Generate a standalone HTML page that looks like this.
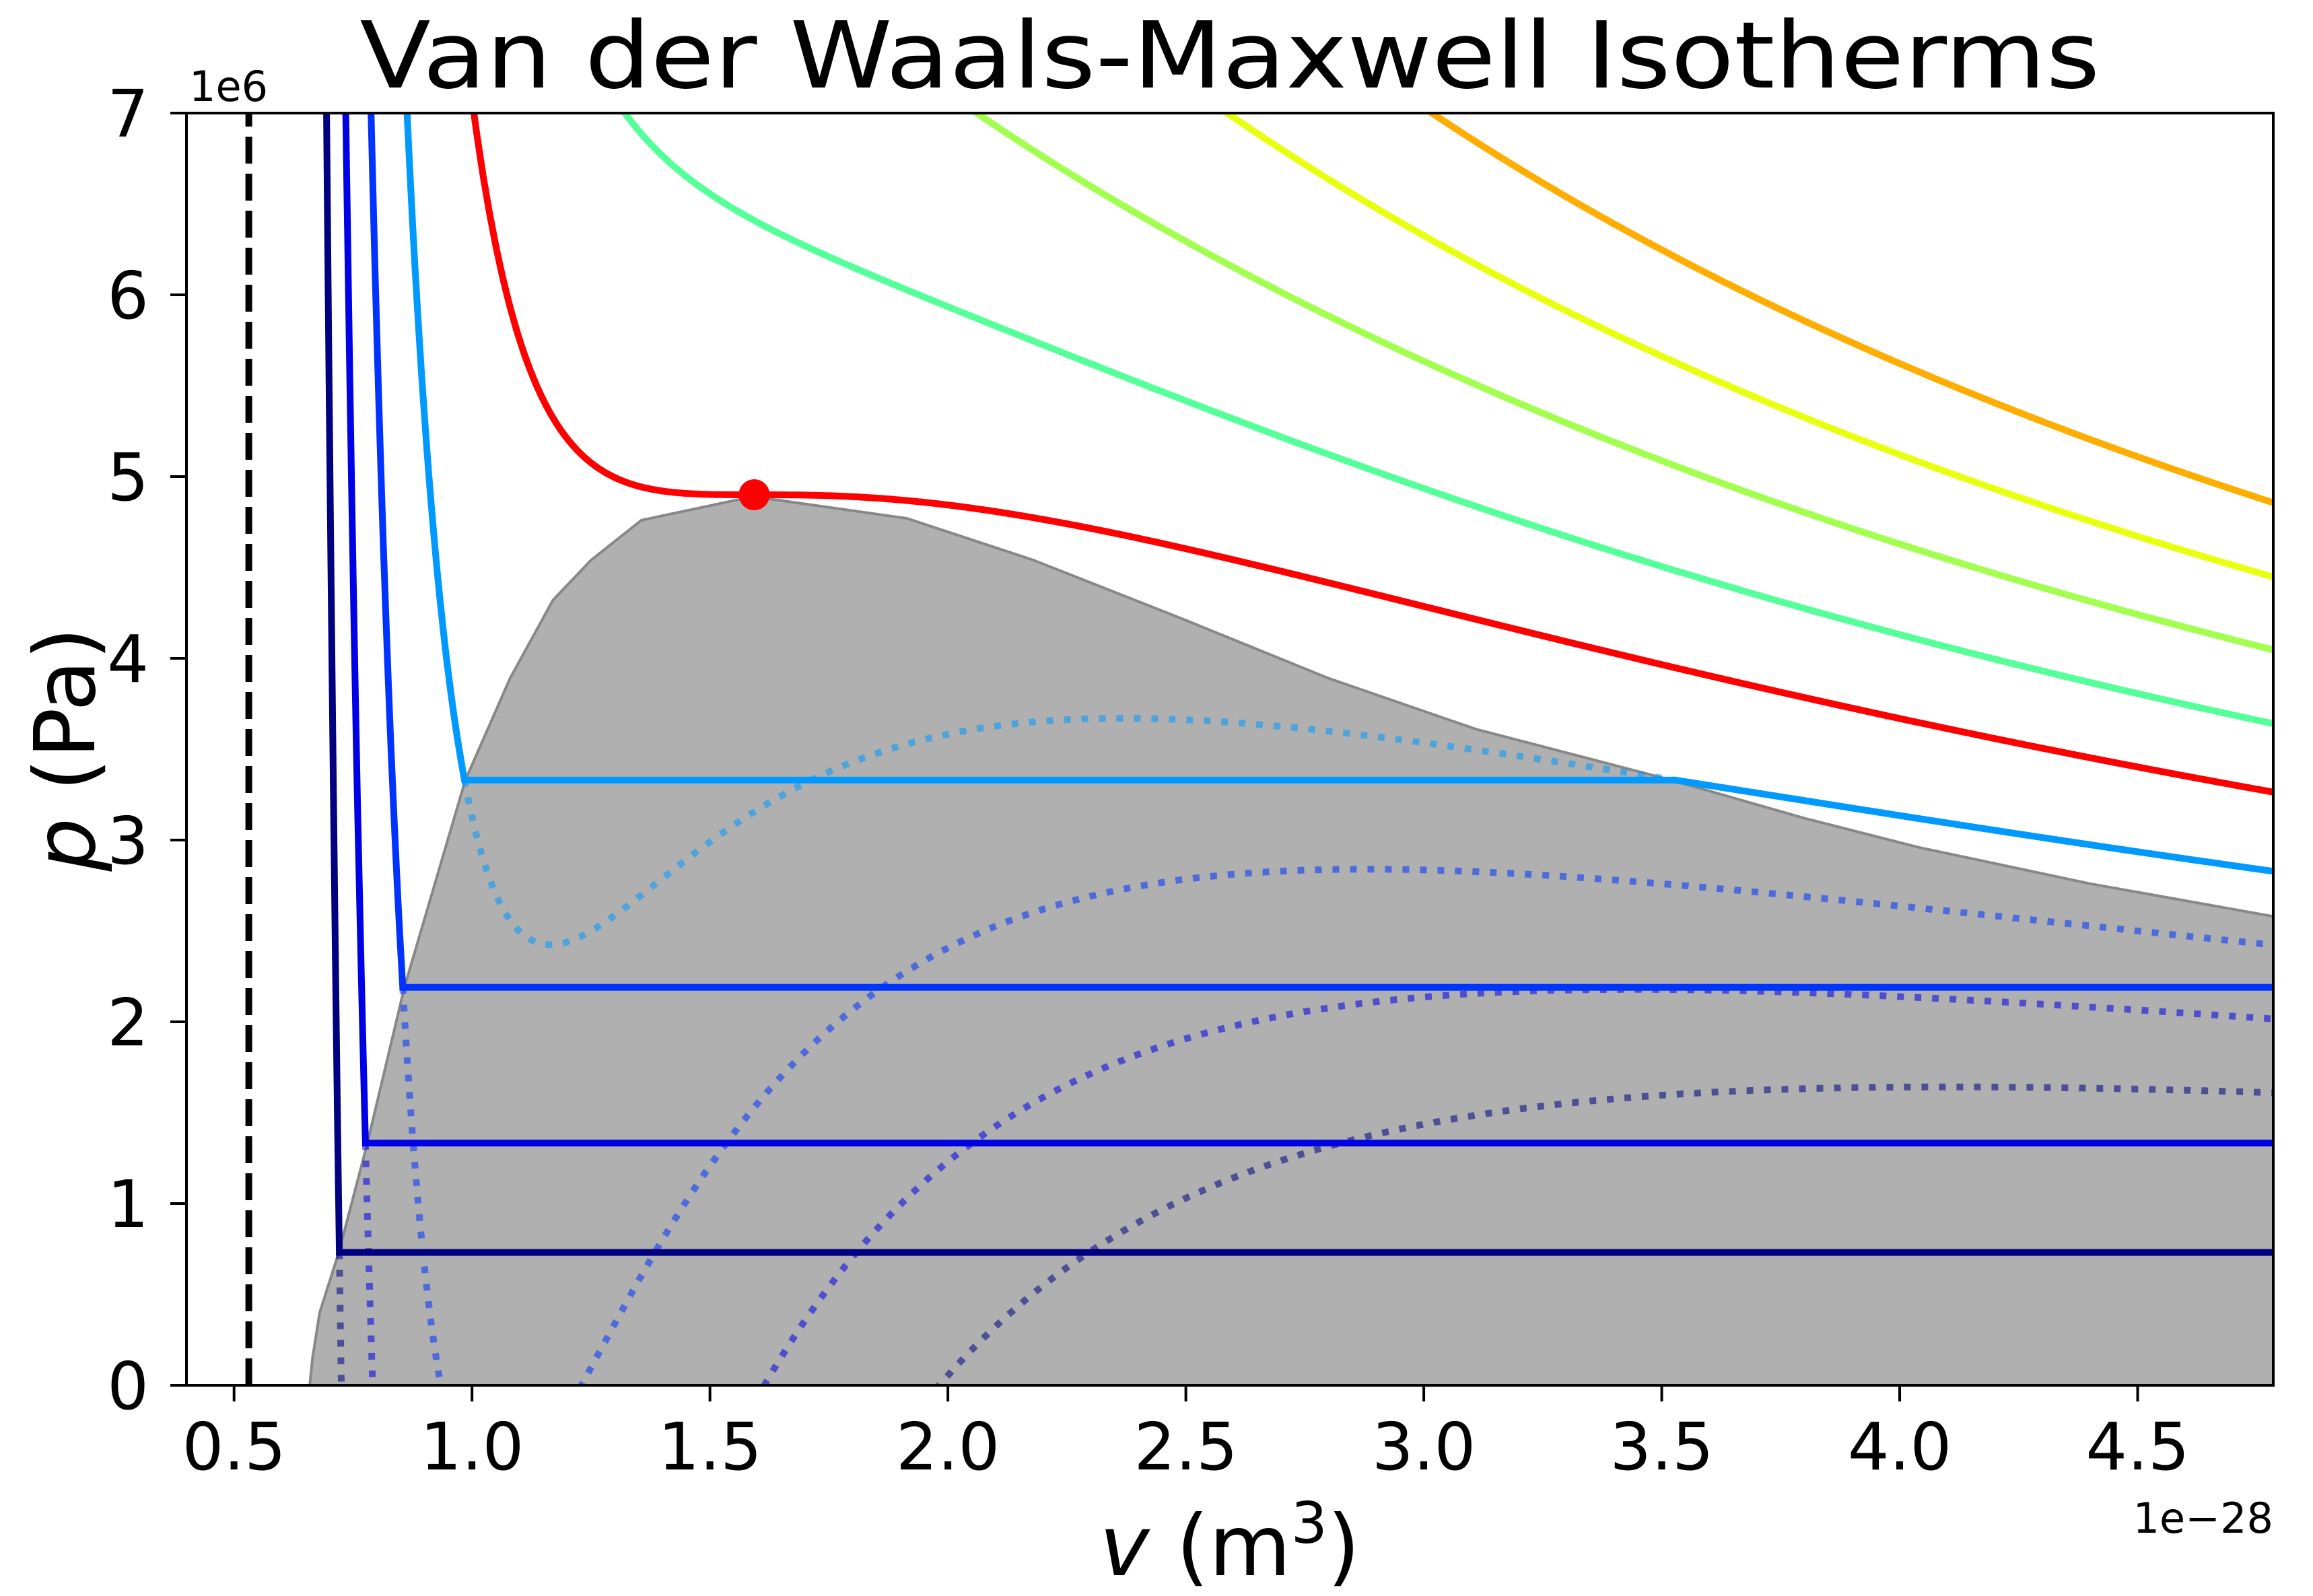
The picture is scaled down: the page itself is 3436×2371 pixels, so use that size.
<!DOCTYPE html>
<html><head><meta charset="utf-8">
<style>
html,body{margin:0;padding:0;background:#fff;width:3436px;height:2371px;overflow:hidden;}
svg{display:block;font-family:"DejaVu Sans","Liberation Sans",sans-serif;}
</style></head>
<body>
<svg id="chart" width="3436" height="2371" viewBox="0 0 3436 2371" xmlns="http://www.w3.org/2000/svg">
<defs><clipPath id="plotclip"><rect x="277" y="168" width="3100" height="1890"/></clipPath></defs>
<rect x="0" y="0" width="3436" height="2371" fill="#fff"/>
<text x="1827" y="130" font-size="137" text-anchor="middle" textLength="2585" lengthAdjust="spacingAndGlyphs">Van der Waals-Maxwell Isotherms</text>
<g id="plot" clip-path="url(#plotclip)"></g>
<g id="axes"></g>
<text x="281" y="150" font-size="62">1e6</text>
<text x="3377" y="2277" font-size="62" text-anchor="end">1e−28</text>
<text x="1827" y="2340" font-size="125" text-anchor="middle"><tspan font-style="italic">v</tspan> (m<tspan font-size="85" dy="-48">3</tspan><tspan dy="48">)</tspan></text>
<text transform="translate(140,1113) rotate(-90)" font-size="125" text-anchor="middle"><tspan font-style="italic">p</tspan> (Pa)</text>
</svg>
<script>
// ---- data ----
const xTicks = [0.5, 1.0, 1.5, 2.0, 2.5, 3.0, 3.5, 4.0, 4.5];
const xTickLabels = ["0.5","1.0","1.5","2.0","2.5","3.0","3.5","4.0","4.5"];
const yTicks = [0, 1, 2, 3, 4, 5, 6, 7];
const yTickLabels = ["0","1","2","3","4","5","6","7"];
const excludedVolume = 0.531;          // b (1e-28 m^3)
const criticalPressure = 4.9;          // 1e6 Pa
const criticalVolume = 1.593;          // 1e-28 m^3
const subTemps = [0.662, 0.745, 0.828, 0.911];   // T/Tc
const subPlateau = [0.731, 1.333, 2.19, 3.33];   // Maxwell pressures, 1e6 Pa
const subColors = ["#000080", "#0000e6", "#0033ff", "#0099ff"];
const criticalTemp = [1.0];
const superTemps = [1.077, 1.16, 1.242, 1.3255];
const superColors = ["#55ff9a", "#a2ff50", "#e8ff10", "#ffad00"];
const domeV = [0.659,0.665,0.68,0.72,0.78,0.858,0.986,1.08,1.17,1.25,1.356,1.59,1.914,2.18,2.49,2.80,3.11,3.52,3.8,4.04,4.4,4.785];
const domeP = [0,0.15,0.4,0.73,1.33,2.19,3.33,3.89,4.32,4.54,4.76,4.89,4.77,4.54,4.22,3.89,3.61,3.33,3.12,2.96,2.76,2.58];

// ---- axes ----
const X0=277, X1=3377, Y0=2058, Y1=168, VMIN=0.4, VMAX=4.785, PMIN=0, PMAX=7;
const sx = v => X0 + (v-VMIN)/(VMAX-VMIN)*(X1-X0);
const sy = p => Y0 - (p-PMIN)/(PMAX-PMIN)*(Y0-Y1);
const NS="http://www.w3.org/2000/svg";
const plot=document.getElementById('plot'), axes=document.getElementById('axes');
function mk(tag, attrs, parent){const e=document.createElementNS(NS,tag);for(const k in attrs)e.setAttribute(k,attrs[k]);parent.appendChild(e);return e;}

function vdw(v,t){const vr=v/criticalVolume;return criticalPressure*(8*t/(3*vr-1)-3/(vr*vr));}
function clampP(p){return Math.max(PMIN-0.3,Math.min(PMAX+0.3,p));}
function pathFor(v0,v1,t){let d="";const n=Math.max(2,Math.ceil((v1-v0)/0.002));for(let i=0;i<=n;i++){const v=v0+(v1-v0)*i/n;d+=(i?"L":"M")+sx(v).toFixed(1)+" "+sy(clampP(vdw(v,t))).toFixed(1);}return d;}
function liquidRoot(t,P){let prev=null;for(let v=excludedVolume+0.005;v<10;v+=0.001){const f=vdw(v,t)-P;if(prev!==null&&prev>0&&f<=0){let a=v-0.001,b=v;for(let k=0;k<40;k++){const m=(a+b)/2;if(vdw(m,t)-P>0)a=m;else b=m;}return (a+b)/2;}prev=f;}return VMAX;}
function vaporRoot(t,P){let prev=null;for(let v=30;v>excludedVolume+0.01;v-=0.002){const f=vdw(v,t)-P;if(prev!==null&&prev<0&&f>=0){let a=v,b=v+0.002;for(let k=0;k<40;k++){const m=(a+b)/2;if(vdw(m,t)-P>0)a=m;else b=m;}return (a+b)/2;}prev=f;}return VMAX;}
const VSTART = excludedVolume+0.01;

// dome
let dd="";
for(let i=0;i<domeV.length;i++){dd+=(i?"L":"M")+sx(domeV[i]).toFixed(1)+" "+sy(domeP[i]).toFixed(1);}
dd+="L"+sx(VMAX)+" "+sy(0)+"Z";
const dome=mk('path',{d:dd,fill:"#b0b0b0",stroke:"#888",'stroke-width':4},plot);



// dotted unstable vdW parts
for(let i=0;i<subTemps.length;i++){
  const t=subTemps[i],P=subPlateau[i];
  const vl=liquidRoot(t,P), vv=Math.min(vaporRoot(t,P),VMAX);
  const el=mk('path',{d:pathFor(vl,vv,t),fill:"none",stroke:subColors[i],'stroke-opacity':0.55,'stroke-width':10,'stroke-dasharray':"10 16"},plot);
  
  
}

// subcritical isotherms with Maxwell plateau
for(let i=0;i<subTemps.length;i++){
  const t=subTemps[i],P=subPlateau[i];
  const vl=liquidRoot(t,P), vr=vaporRoot(t,P);
  let d=pathFor(VSTART,vl,t);
  d+="L"+sx(Math.min(vr,VMAX)).toFixed(1)+" "+sy(P).toFixed(1);
  if(vr<VMAX){d+=pathFor(vr,VMAX,t).replace(/^M/,"L");}
  const el=mk('path',{d:d,fill:"none",stroke:subColors[i],'stroke-width':10,'stroke-linejoin':"miter"},plot);
  
  
}
// critical
{
  const el=mk('path',{d:pathFor(VSTART,VMAX,criticalTemp[0]),fill:"none",stroke:"#ff0000",'stroke-width':10},plot);
  
  
}
// supercritical
for(let i=0;i<superTemps.length;i++){
  const el=mk('path',{d:pathFor(VSTART,VMAX,superTemps[i]),fill:"none",stroke:superColors[i],'stroke-width':10},plot);
  
  
}
// excluded volume dashed line
{
  const el=mk('line',{x1:sx(excludedVolume),x2:sx(excludedVolume),y1:Y0,y2:Y1,stroke:"#000",'stroke-width':10,'stroke-dasharray':"40 15"},plot);
  
  
}
// critical point
{
  const el=mk('circle',{cx:sx(criticalVolume),cy:sy(criticalPressure),r:23,fill:"#ff0000"},document.getElementById('chart'));
  
  
}
// frame
{
  const el=mk('rect',{x:X0,y:Y1,width:X1-X0,height:Y0-Y1,fill:"none",stroke:"#000",'stroke-width':4},axes);
  
  
}
// ticks
for(let i=0;i<xTicks.length;i++){
  const x=sx(xTicks[i]);
  const tk=mk('line',{x1:x,x2:x,y1:Y0,y2:Y0+24,stroke:"#000",'stroke-width':4},axes);
  
  
  const lb=mk('text',{x:x,y:2183,'font-size':97,'text-anchor':'middle'},axes);
  lb.textContent=xTickLabels[i];
  
  
}
for(let i=0;i<yTicks.length;i++){
  const y=sy(yTicks[i]);
  const tk=mk('line',{x1:X0-24,x2:X0,y1:y,y2:y,stroke:"#000",'stroke-width':4},axes);
  
  
  const lb=mk('text',{x:221,y:y+35,'font-size':97,'text-anchor':'end'},axes);
  lb.textContent=yTickLabels[i];
  
  
}
</script>
</body></html>
